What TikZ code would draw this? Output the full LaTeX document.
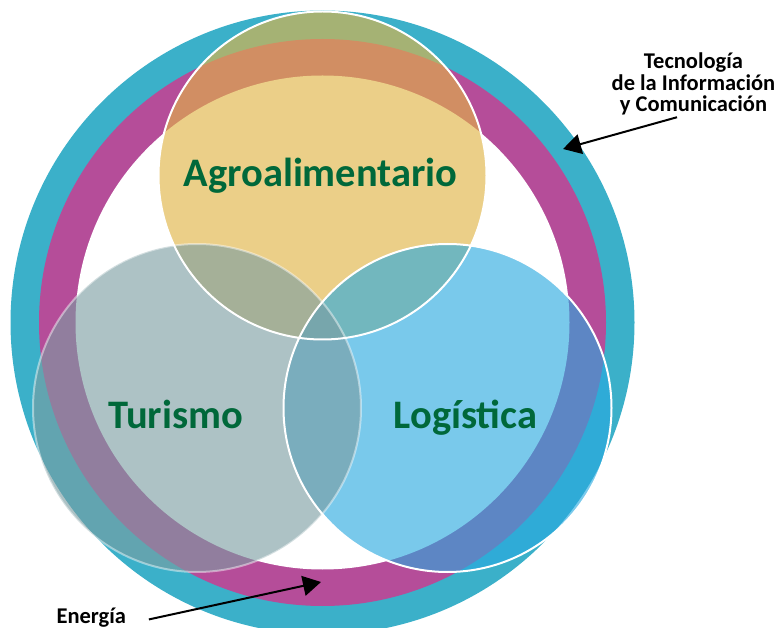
\documentclass[tikz,border=0pt]{standalone}
\usepackage{fontspec}
\setmainfont{Carlito}
\usetikzlibrary{arrows.meta}
\definecolor{ticblue}{RGB}{59,176,201}
\definecolor{energyred}{RGB}{181,77,153}
\definecolor{agrofill}{RGB}{225,180,69}
\definecolor{logifill}{RGB}{40,169,224}
\definecolor{turifill}{RGB}{123,157,162}
\definecolor{sectorgreen}{RGB}{0,104,58}

\begin{document}
\begin{tikzpicture}[x=1pt,y=-1pt,
    sector/.style={circle,minimum size=328pt,inner sep=0pt,fill opacity=0.62},
    sectorname/.style={anchor=base,inner sep=0pt,text=sectorgreen,font=\bfseries\fontsize{40.5}{48}\selectfont},
    axisname/.style={anchor=base,inner sep=0pt,align=center,font=\bfseries\fontsize{22.5}{21.5}\selectfont},
    pointer/.style={line width=2pt,-{Triangle[length=18pt,width=20pt]}}]
    \clip (0,0) rectangle (780,628);
    \coordinate (hub) at (322.5,322.5);
    \fill[ticblue] (hub) circle[radius=312pt];
    \fill[energyred] (hub) circle[radius=283.5pt];
    \fill[white] (hub) circle[radius=247pt];

    \node[sector,fill=agrofill,fill opacity=0.64] (agro) at (322.5,175.5) {};
    \node[sector,fill=logifill] (logi) at (447.5,408) {};
    \node[sector,fill=turifill] (turi) at (197,408) {};
    \draw[white,line width=2pt] (agro.center) circle[radius=164pt] (logi.center) circle[radius=164pt];
    \draw[white,line width=2pt,draw opacity=0.45] (turi.center) circle[radius=164pt];

    \node[sectorname] (agrolabel) at (320.5,187) {Agroalimentario};
    \node[sectorname] (turilabel) at (175.5,429) {Turismo};
    \node[sectorname] (logilabel) at (465.5,429) {Logística};

    \node[axisname] (tic) at (693.5,112) {Tecnología\\de la Información\\y Comunicación};
    \node[axisname] (energia) at (91.3,623.3) {Energía};
    \coordinate (ticTip) at (563,149);
    \coordinate (energiaTip) at (321,582);
    \draw[pointer] ([shift={(-16.5,1.5)}]tic.south) -- (ticTip);
    \draw[pointer] ([shift={(22.7,2)}]energia.east) -- (energiaTip);
\end{tikzpicture}
\end{document}
